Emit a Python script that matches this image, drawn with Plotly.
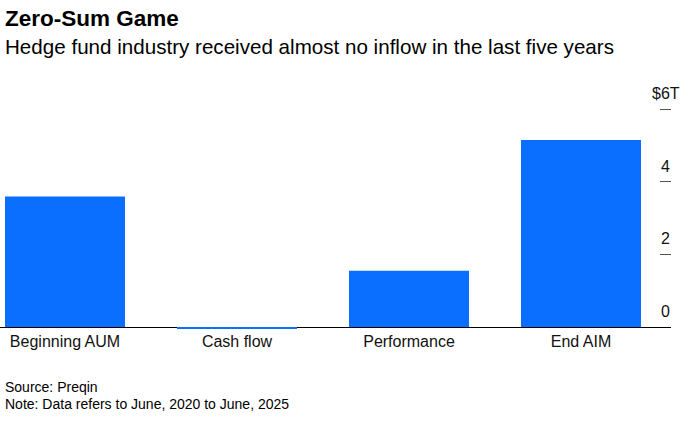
import plotly.graph_objects as go

categories = ["Beginning AUM", "Cash flow", "Performance", "End AIM"]
values = [3.59, -0.05, 1.55, 5.15]
tick_vals = [0, 2, 4, 6]
tick_text = ["0", "2", "4", "$6T"]

title = "Zero-Sum Game"
subtitle = "Hedge fund industry received almost no inflow in the last five years"
source = "Source: Preqin"
note = "Note: Data refers to June, 2020 to June, 2025"

FONT = "Liberation Sans, Arial, sans-serif"
BLUE = "#0A6EFF"

fig = go.Figure()
fig.add_trace(go.Bar(
    x=list(range(len(categories))), y=values,
    marker=dict(color=BLUE, line=dict(width=0)),
    hoverinfo="skip",
))

W, H = 693, 422
ml, mr, mt, mb = 0, 22, 100, 92
plot_w = W - ml - mr
px_per_cat = 172.0
x0 = -(65 - ml) / px_per_cat
x1 = x0 + plot_w / px_per_cat

px_per_unit = (327 - 109) / 6.0
y_bottom = -(330 - 327) / px_per_unit
y_top = (327 - mt) / px_per_unit

fig.update_layout(
    width=W, height=H,
    margin=dict(l=ml, r=mr, t=mt, b=mb),
    paper_bgcolor="white", plot_bgcolor="white",
    bargap=1 - 120 / 172,
    showlegend=False,
    font=dict(family=FONT, color="#000000"),
    xaxis=dict(
        range=[x0, x1], tickmode="array",
        tickvals=list(range(len(categories))), ticktext=categories,
        tickfont=dict(size=16, color="#111111"),
        showgrid=False, zeroline=False, showline=False, ticks="",
    ),
    yaxis=dict(
        range=[y_bottom, y_top], side="right",
        tickmode="array", tickvals=tick_vals[1:],
        ticks="inside", ticklen=11, tickwidth=1, tickcolor="#555555",
        showticklabels=False,
        showgrid=False, zeroline=True, zerolinecolor="#000000", zerolinewidth=1,
        showline=False,
    ),
)

for v, t in zip(tick_vals, tick_text):
    fig.add_annotation(
        x=1 - 5.5 / plot_w, xref="paper", y=v, yref="y",
        text=t, showarrow=False, xanchor="center", yanchor="bottom",
        yshift=5, font=dict(size=16, color="#111111"),
    )

def paper_xy(px, py):
    return (px - ml) / plot_w, (H - mb - py) / (H - mt - mb)

for txt, py, size, bold in [
    (title, 4, 22.5, True),
    (subtitle, 33, 20.6, False),
    (source, 377, 14, False),
    (note, 394, 14, False),
]:
    xp, yp = paper_xy(2.5, py)
    fig.add_annotation(
        x=xp, y=yp, xref="paper", yref="paper",
        text=f"<b>{txt}</b>" if bold else txt,
        showarrow=False, xanchor="left", yanchor="top",
        font=dict(size=size, color="#000000"),
    )

fig.write_html("out.html", config={"displayModeBar": False},
               post_script="document.body.style.margin='0';")
